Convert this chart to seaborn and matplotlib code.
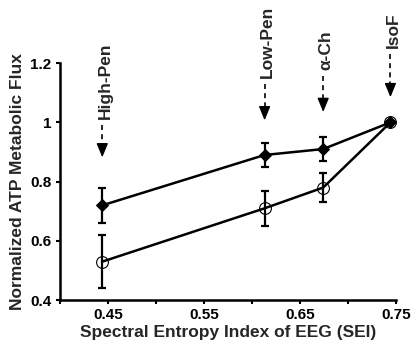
import matplotlib
matplotlib.use("Agg")
import matplotlib.pyplot as plt
import seaborn as sns
import pandas as pd

# data
sei = [0.444, 0.613, 0.674, 0.744]
flux_filled = [0.72, 0.89, 0.91, 1.00]
err_filled = [0.06, 0.04, 0.04, 0.0]
flux_open = [0.53, 0.71, 0.78, 1.00]
err_open = [0.09, 0.06, 0.05, 0.0]
conditions = ["High-Pen", "Low-Pen", "α-Ch", "IsoF"]
arrow_tip = [0.882, 1.007, 1.035, 1.085]
label_base = [1.011, 1.149, 1.176, 1.251]

sns.set_theme(style="ticks")
plt.rcParams['font.family'] = ['Liberation Sans', 'DejaVu Sans']
plt.rcParams['font.weight'] = 'bold'

df = pd.DataFrame({"sei": sei + sei,
                   "flux": flux_filled + flux_open,
                   "grp": ["filled"] * 4 + ["open"] * 4})

fig = plt.figure(figsize=(4.11, 3.45), dpi=100)
ax = fig.add_axes([0.146, 0.13, 0.818, 0.687])

ax.errorbar(sei, flux_filled, yerr=err_filled, fmt='none', ecolor='black',
            elinewidth=1.6, capsize=3, capthick=1.6, zorder=2)
ax.errorbar(sei, flux_open, yerr=err_open, fmt='none', ecolor='black',
            elinewidth=1.6, capsize=3, capthick=1.6, zorder=2)

sns.lineplot(data=df[df.grp == "open"], x="sei", y="flux", color='black',
             lw=1.8, marker='o', markersize=8.5, markerfacecolor='none',
             markeredgecolor='black', markeredgewidth=0.8, ax=ax, zorder=3)
sns.lineplot(data=df[df.grp == "filled"], x="sei", y="flux", color='black',
             lw=1.8, marker='D', markersize=6.5, markerfacecolor='black',
             markeredgecolor='black', ax=ax, zorder=4)

# condition labels with dashed arrows pointing down
head = 0.04
for x, name, tip, base in zip(sei, conditions, arrow_tip, label_base):
    ax.text(x + 0.003, base, name, rotation=90, ha='center', va='bottom',
            fontsize=12.5, fontweight='bold', clip_on=False)
    ax.plot([x, x], [base - 0.02, tip + head], color='black', lw=1.2,
            ls=(0, (3, 2.5)), clip_on=False)
    ax.annotate('', xy=(x, tip), xytext=(x, tip + head), annotation_clip=False,
                arrowprops=dict(arrowstyle='-|>,head_length=0.85,head_width=0.35',
                                mutation_scale=10, lw=1, color='black',
                                shrinkA=0, shrinkB=0))

ax.set_xlim(0.40, 0.75)
ax.set_ylim(0.4, 1.2)
ax.set_xticks([0.40, 0.45, 0.50, 0.55, 0.60, 0.65, 0.70, 0.75])
ax.set_xticklabels(["", "0.45", "", "0.55", "", "0.65", "", "0.75"])
ax.set_yticks([0.4, 0.6, 0.8, 1.0, 1.2])
ax.set_yticklabels(["0.4", "0.6", "0.8", "1", "1.2"])
ax.tick_params(axis='both', labelsize=11, width=1.5, length=3, color='black',
               labelcolor='black', pad=3)
for lab in ax.get_xticklabels() + ax.get_yticklabels():
    lab.set_fontweight('bold')

ax.set_xlabel("Spectral Entropy Index of EEG (SEI)", fontsize=12.5,
              fontweight='bold', labelpad=2)
ax.set_ylabel("Normalized ATP Metabolic Flux", fontsize=12.5,
              fontweight='bold', labelpad=4)

sns.despine(ax=ax)
for s in ['left', 'bottom']:
    ax.spines[s].set_linewidth(1.8)
    ax.spines[s].set_color('black')

fig.savefig("out.png", dpi=100)
